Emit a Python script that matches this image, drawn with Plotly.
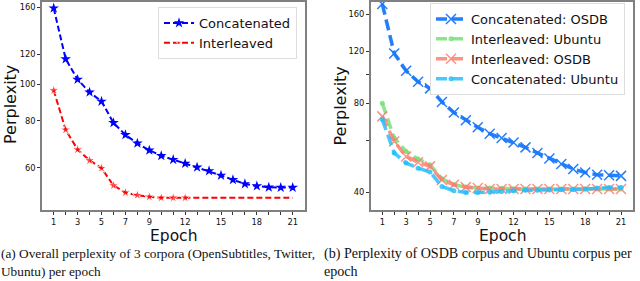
import plotly.graph_objects as go

epochs = list(range(1, 22))
x_tick_vals = list(range(1, 22))
x_tick_text = ["1", "", "3", "", "5", "", "7", "", "9", "", "", "12", "", "", "15", "", "", "18", "", "", "21"]

# Panel (a)
concat_overall = [159, 116.6, 102.9, 95.2, 90.0, 79.0, 73.4, 69.7, 66.8, 64.6, 63.1, 61.6,
                  60.2, 58.9, 57.3, 55.8, 54.4, 53.7, 53.3, 53.2, 53.2]
inter_overall = [96.3, 75.7, 67.1, 62.8, 59.9, 53.9, 51.6, 50.8, 50.3, 50.0, 50.0, 50.0,
                 50.0, 50.0, 50.0, 50.0, 50.0, 50.0, 50.0, 50.0, 50.0]
inter_marked_epochs = 12
a_y_ticks = [60, 80, 100, 120, 160]
a_y_text = ["60", "80", "100", "120", "160"]

# Panel (b)
concat_osdb = [173.4, 117.9, 103.0, 94.5, 89.8, 80.8, 74.4, 70.1, 66.3, 63.1, 61.0, 58.9,
               56.7, 54.3, 52.0, 49.8, 47.9, 46.6, 45.8, 45.6, 45.4]
inter_ubuntu = [80.0, 61.0, 54.9, 51.8, 49.5, 44.4, 42.4, 41.6, 41.3, 41.3, 41.2, 41.1,
                41.0, 41.0, 41.0, 41.0, 41.0, 41.0, 41.0, 41.0, 41.0]
inter_osdb = [72.2, 59.4, 52.8, 50.5, 48.9, 44.0, 42.4, 41.6, 41.3, 41.0, 41.0, 41.0,
              41.0, 41.0, 41.0, 41.0, 41.0, 41.0, 41.0, 41.0, 41.0]
concat_ubuntu = [70.4, 54.3, 50.2, 48.2, 46.8, 41.8, 40.4, 39.9, 39.9, 40.0, 40.2, 40.4,
                 40.6, 40.6, 40.7, 40.8, 40.8, 41.0, 41.3, 41.5, 41.5]
b_y_ticks = [40, 60, 80, 100, 120, 160]
b_y_text = ["40", "", "80", "", "120", "160"]

captions_a = ["(a) Overall perplexity of 3 corpora (OpenSubtitles, Twitter,", "Ubuntu) per epoch"]
captions_b = ["(b) Perplexity of OSDB corpus and Ubuntu corpus per", "epoch"]

W, H = 640, 281
def px(x): return x / W
def py(y): return (H - y) / H

fig = go.Figure()

# (a)
fig.add_trace(go.Scatter(x=epochs, y=concat_overall, name="Concatenated", mode="lines+markers",
                         line=dict(color="#0000FF", width=2, dash="6px,3px"),
                         marker=dict(symbol="star", size=8, color="#0000FF"),
                         xaxis="x", yaxis="y", legend="legend"))
fig.add_trace(go.Scatter(x=epochs, y=inter_overall, name="Interleaved", mode="lines+markers",
                         line=dict(color="#FF0000", width=2, dash="6px,3px"),
                         marker=dict(symbol="star", color="#FF0000",
                                     size=[8 if e <= inter_marked_epochs else 0 for e in epochs]),
                         xaxis="x", yaxis="y", legend="legend"))

# (b)
series_b = [
    ("Concatenated: OSDB", concat_osdb, "rgba(25,120,250,0.95)", "x-thin"),
    ("Interleaved: Ubuntu", inter_ubuntu, "rgba(120,225,120,0.85)", "circle"),
    ("Interleaved: OSDB", inter_osdb, "rgba(250,128,114,0.85)", "x-thin"),
    ("Concatenated: Ubuntu", concat_ubuntu, "rgba(40,190,250,0.85)", "circle"),
]
for i, (name, vals, col, sym) in enumerate(series_b):
    if sym == "x-thin":
        mk = dict(symbol="x-thin", size=10, color=col, line=dict(width=1.5, color=col))
    else:
        mk = dict(symbol="circle", size=5, color=col)
    fig.add_trace(go.Scatter(x=epochs, y=vals, name=name, mode="lines+markers",
                             line=dict(color=col, width=3.5, dash="11px,5px"),
                             marker=mk, xaxis="x2", yaxis="y2", legend="legend2"))

axis_common = dict(showgrid=False, zeroline=False, showline=True, mirror=True,
                   linecolor="#808080", linewidth=1.5, ticks="outside", ticklen=3,
                   tickcolor="#333", tickfont=dict(family="DejaVu Sans", size=8.3, color="#111"))

fig.update_layout(
    width=W, height=H, margin=dict(l=0, r=0, t=0, b=0),
    paper_bgcolor="white", plot_bgcolor="white",
    xaxis=dict(domain=[px(42), px(305)], range=[0.02, 22.03], tickvals=x_tick_vals,
               ticktext=x_tick_text, anchor="y", **axis_common),
    yaxis=dict(domain=[py(210), py(1.7)], type="log",
               range=[1.66652, 2.21854], tickvals=a_y_ticks, ticktext=a_y_text,
               anchor="x", **axis_common),
    xaxis2=dict(domain=[px(370.7), px(633.3)], range=[0.03, 22.03], tickvals=x_tick_vals,
                ticktext=x_tick_text, anchor="y2", **axis_common),
    yaxis2=dict(domain=[py(210), py(1.7)], type="log",
                range=[1.54158, 2.24674], tickvals=b_y_ticks, ticktext=b_y_text,
                anchor="x2", **axis_common),
    legend=dict(x=px(158), y=py(7), xanchor="left", yanchor="top",
                font=dict(family="DejaVu Sans", size=13, color="#111"),
                bgcolor="white", bordercolor="#dddddd", borderwidth=1,
                traceorder="normal"),
    legend2=dict(x=px(430), y=py(3), xanchor="left", yanchor="top",
                 font=dict(family="DejaVu Sans", size=13, color="#111"),
                 bgcolor="white", bordercolor="#dddddd", borderwidth=1,
                 traceorder="normal"),
    showlegend=True,
)

ann = []
title_font = dict(family="DejaVu Sans", size=15.5, color="#111")
ann.append(dict(text="Epoch", x=px(173.5), y=py(236), xref="paper", yref="paper",
                showarrow=False, font=title_font, xanchor="center", yanchor="middle"))
ann.append(dict(text="Epoch", x=px(502), y=py(236), xref="paper", yref="paper",
                showarrow=False, font=title_font, xanchor="center", yanchor="middle"))
ptitle_font = dict(family="DejaVu Sans", size=16, color="#111")
ann.append(dict(text="Perplexity", x=px(10), y=py(105), xref="paper", yref="paper",
                showarrow=False, font=ptitle_font, textangle=-90, xanchor="center", yanchor="middle"))
ann.append(dict(text="Perplexity", x=px(339.5), y=py(106), xref="paper", yref="paper",
                showarrow=False, font=ptitle_font, textangle=-90, xanchor="center", yanchor="middle"))
cap_a_font = dict(family="Liberation Serif", size=13.3, color="#111")
cap_b_font = dict(family="Liberation Serif", size=14.1, color="#111")
for i, line in enumerate(captions_a):
    ann.append(dict(text=line, x=px(-1), y=py(253 + 18 * i), xref="paper", yref="paper",
                    showarrow=False, font=cap_a_font, xanchor="left", yanchor="middle"))
for i, line in enumerate(captions_b):
    ann.append(dict(text=line, x=px(322), y=py(253 + 18 * i), xref="paper", yref="paper",
                    showarrow=False, font=cap_b_font, xanchor="left", yanchor="middle"))
fig.update_layout(annotations=ann)

fig.write_html("out.html", config={"displayModeBar": False},
               post_script="document.body.style.margin='0px';document.body.style.overflow='hidden';")
